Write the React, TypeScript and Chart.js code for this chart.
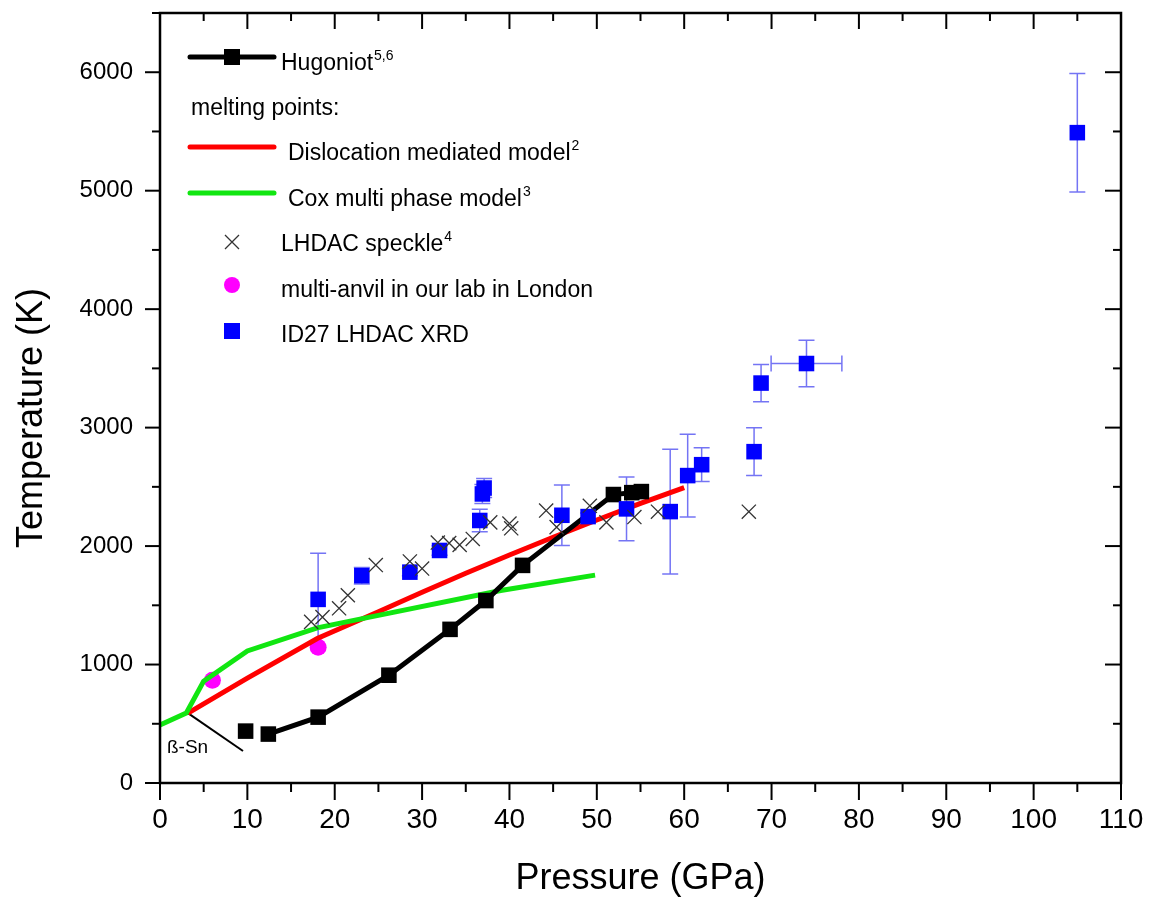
import React, { useEffect, useRef } from 'react';
import { Chart, registerables } from 'chart.js';

Chart.register(...registerables);

const FONT = "'Liberation Sans', Arial, Helvetica, sans-serif";

// Hugoniot (black squares + line)
const hugP = [9.8, 12.4, 18.1, 26.2, 33.2, 37.3, 41.5, 51.9, 54.0, 55.1];
const hugT = [438, 413, 556, 910, 1297, 1540, 1837, 2435, 2451, 2460];

// Dislocation mediated model (red)
const disP = [3.2, 10, 18, 25, 30, 35, 40, 45, 50, 55, 60];
const disT = [590, 885, 1220, 1445, 1610, 1770, 1925, 2075, 2220, 2360, 2494];

// Cox multi phase model (green)
const coxP = [0, 3.0, 5.0, 10, 18, 24, 39, 49.8];
const coxT = [490, 590, 860, 1115, 1310, 1400, 1625, 1755];

// thin black phase lines
const meltLowP = [0, 3.2, 8];
const meltLowT = [490, 590, 790];
const betaP = [3.2, 9.5];
const betaT = [590, 270];

// LHDAC speckle (crosses)
const speckP = [17.3, 18.6, 20.5, 21.5, 24.7, 28.6, 30.0, 31.8, 33.1, 34.3, 35.8, 37.8, 40.0, 40.2, 44.2, 45.4, 49.2, 51.1, 54.3, 57.0, 67.4];
const speckT = [1360, 1400, 1475, 1585, 1840, 1870, 1810, 2030, 2025, 2010, 2060, 2200, 2190, 2150, 2300, 2160, 2340, 2200, 2245, 2290, 2290];

// multi-anvil (magenta)
const anvilP = [6.0, 18.1];
const anvilT = [868, 1146];

// ID27 LHDAC XRD (blue squares with error bars)
const id27P = [18.1, 23.1, 28.6, 32.0, 36.6, 36.9, 37.1, 46.0, 49.0, 53.4, 58.4, 60.4, 62.0, 68.0, 68.8, 74.0, 105.0];
const id27T = [1550, 1750, 1780, 1963, 2216, 2440, 2490, 2260, 2249, 2314, 2291, 2595, 2687, 2797, 3376, 3541, 5490];
const id27Terr = [390, 70, 30, 40, 95, 80, 80, 255, 30, 270, 527, 350, 142, 202, 157, 197, 500];
const id27Perr = [0, 0, 0, 0, 0, 0, 0, 0, 0, 0, 0, 0, 0, 0, 0, 4.05, 0];

const xTickVals = [0, 10, 20, 30, 40, 50, 60, 70, 80, 90, 100, 110];
const yTickVals = [0, 1000, 2000, 3000, 4000, 5000, 6000];

const toXY = (ps: number[], ts: number[]) => ps.map((p, i) => ({ x: p, y: ts[i] }));

const zeroPad = (s: any) => {
  s.paddingTop = 0;
  s.paddingBottom = 0;
  s.paddingLeft = 0;
  s.paddingRight = 0;
};

const errorBarPlugin = {
  id: 'errbars',
  beforeDatasetsDraw(chart: any) {
    const { ctx, scales } = chart;
    const x = scales.x, y = scales.y;
    ctx.save();
    ctx.strokeStyle = 'rgba(70,70,240,0.75)';
    ctx.lineWidth = 1.5;
    const cap = 8;
    id27P.forEach((p, i) => {
      const px = x.getPixelForValue(p);
      const py = y.getPixelForValue(id27T[i]);
      const te = id27Terr[i];
      if (te) {
        const y1 = y.getPixelForValue(id27T[i] + te);
        const y2 = y.getPixelForValue(id27T[i] - te);
        ctx.beginPath();
        ctx.moveTo(px, y1); ctx.lineTo(px, y2);
        ctx.moveTo(px - cap, y1); ctx.lineTo(px + cap, y1);
        ctx.moveTo(px - cap, y2); ctx.lineTo(px + cap, y2);
        ctx.stroke();
      }
      const pe = id27Perr[i];
      if (pe) {
        const x1 = x.getPixelForValue(p - pe);
        const x2 = x.getPixelForValue(p + pe);
        ctx.beginPath();
        ctx.moveTo(x1, py); ctx.lineTo(x2, py);
        ctx.moveTo(x1, py - cap); ctx.lineTo(x1, py + cap);
        ctx.moveTo(x2, py - cap); ctx.lineTo(x2, py + cap);
        ctx.stroke();
      }
    });
    ctx.restore();
  },
};

const framePlugin = {
  id: 'frame',
  afterDatasetsDraw(chart: any) {
    const { ctx, chartArea, scales } = chart;
    const { left, right, top, bottom } = chartArea;
    const x = scales.x, y = scales.y;
    ctx.save();
    ctx.strokeStyle = '#000';
    ctx.lineWidth = 2.5;
    ctx.strokeRect(left, top, right - left, bottom - top);
    ctx.lineWidth = 2;
    const seg = (a: number, b: number, c: number, d: number) => {
      ctx.beginPath(); ctx.moveTo(a, b); ctx.lineTo(c, d); ctx.stroke();
    };
    for (let v = 0; v <= 110; v += 5) {
      const px = x.getPixelForValue(v);
      const major = v % 10 === 0;
      seg(px, bottom, px, bottom + (major ? 17 : 9));
      seg(px, top, px, top + (major ? 16 : 8));
    }
    for (let v = 0; v <= 6500; v += 500) {
      const py = y.getPixelForValue(v);
      const major = v % 1000 === 0;
      seg(left, py, left - (major ? 15 : 8), py);
      seg(right, py, right - (major ? 16 : 8), py);
    }
    // beta-Sn label
    ctx.fillStyle = '#000';
    ctx.font = `19px ${FONT}`;
    ctx.textBaseline = 'alphabetic';
    ctx.textAlign = 'left';
    ctx.fillText('ß-Sn', x.getPixelForValue(0.8), y.getPixelForValue(250));
    ctx.restore();
  },
};

const legendPlugin = {
  id: 'customLegend',
  afterDraw(chart: any) {
    const { ctx } = chart;
    ctx.save();
    ctx.textAlign = 'left';
    ctx.textBaseline = 'alphabetic';
    ctx.fillStyle = '#000';
    const text = (t: string, sup: string, x: number, yb: number) => {
      ctx.font = `23px ${FONT}`;
      ctx.fillStyle = '#000';
      ctx.fillText(t, x, yb);
      if (sup) {
        const w = ctx.measureText(t).width;
        ctx.font = `14px ${FONT}`;
        ctx.fillText(sup, x + w + 1, yb - 10);
      }
    };
    // Hugoniot
    ctx.strokeStyle = '#000';
    ctx.lineWidth = 5;
    ctx.lineCap = 'round';
    ctx.beginPath(); ctx.moveTo(190, 57); ctx.lineTo(274, 57); ctx.stroke();
    ctx.fillStyle = '#000';
    ctx.fillRect(232 - 8, 57 - 8, 16, 16);
    text('Hugoniot', '5,6', 281, 70);
    // melting points:
    text('melting points:', '', 191, 115);
    // red
    ctx.strokeStyle = '#ff0000';
    ctx.lineWidth = 5;
    ctx.beginPath(); ctx.moveTo(190, 147); ctx.lineTo(274, 147); ctx.stroke();
    text('Dislocation mediated model', '2', 288, 160);
    // green
    ctx.strokeStyle = '#11e611';
    ctx.beginPath(); ctx.moveTo(190, 193); ctx.lineTo(274, 193); ctx.stroke();
    text('Cox multi phase model', '3', 288, 206);
    // cross
    ctx.strokeStyle = '#333';
    ctx.lineWidth = 1.3;
    ctx.lineCap = 'butt';
    ctx.beginPath();
    ctx.moveTo(225, 235); ctx.lineTo(239, 249);
    ctx.moveTo(239, 235); ctx.lineTo(225, 249);
    ctx.stroke();
    text('LHDAC speckle', '4', 281, 251);
    // magenta
    ctx.fillStyle = '#ff00ff';
    ctx.beginPath(); ctx.arc(232, 285, 8, 0, Math.PI * 2); ctx.fill();
    text('multi-anvil in our lab in London', '', 281, 297);
    // blue
    ctx.fillStyle = '#0000ff';
    ctx.fillRect(232 - 8, 331 - 8, 16, 16);
    text('ID27 LHDAC XRD', '', 281, 342);
    ctx.restore();
  },
};

export default function App() {
  const ref = useRef<HTMLCanvasElement | null>(null);
  useEffect(() => {
    if (!ref.current) return;
    const chart = new Chart(ref.current, {
      type: 'scatter',
      data: {
        datasets: [
          {
            label: 'LHDAC speckle',
            data: toXY(speckP, speckT),
            pointStyle: 'crossRot',
            pointRadius: 10,
            borderColor: '#333',
            backgroundColor: '#333',
            pointBorderWidth: 1.3,
            showLine: false,
            order: 1,
          },
          {
            label: 'ID27 LHDAC XRD',
            data: toXY(id27P, id27T),
            pointStyle: 'rect',
            pointRadius: 11,
            backgroundColor: '#0000ff',
            borderColor: '#0000ff',
            pointBorderWidth: 0,
            showLine: false,
            order: 2,
          },
          {
            label: 'Hugoniot',
            data: toXY(hugP, hugT),
            pointStyle: 'rect',
            pointRadius: 11,
            backgroundColor: '#000',
            borderColor: '#000',
            pointBorderWidth: 0,
            borderWidth: 5,
            showLine: true,
            segment: {
              borderColor: (c: any) => (c.p0DataIndex === 0 ? 'rgba(0,0,0,0)' : '#000'),
            },
            order: 3,
          },
          {
            label: 'Cox multi phase model',
            data: toXY(coxP, coxT),
            showLine: true,
            borderColor: '#11e611',
            borderWidth: 5,
            pointRadius: 0,
            order: 4,
          },
          {
            label: 'Dislocation mediated model',
            data: toXY(disP, disT),
            showLine: true,
            borderColor: '#ff0000',
            borderWidth: 5,
            pointRadius: 0,
            order: 5,
          },
          {
            label: 'melt low',
            data: toXY(meltLowP, meltLowT),
            showLine: true,
            borderColor: '#000',
            borderWidth: 2,
            pointRadius: 0,
            order: 6,
          },
          {
            label: 'beta-Sn boundary',
            data: toXY(betaP, betaT),
            showLine: true,
            borderColor: '#000',
            borderWidth: 2,
            pointRadius: 0,
            order: 6,
          },
          {
            label: 'multi-anvil',
            data: toXY(anvilP, anvilT),
            pointStyle: 'circle',
            pointRadius: 8.5,
            backgroundColor: '#ff00ff',
            borderColor: '#ff00ff',
            pointBorderWidth: 0,
            showLine: false,
            order: 7,
          },
        ],
      },
      options: {
        responsive: false,
        animation: false,
        layout: { padding: { top: 13, right: 28, left: 0, bottom: 0 } },
        plugins: { legend: { display: false }, tooltip: { enabled: false } },
        scales: {
          x: {
            type: 'linear',
            min: 0,
            max: 110,
            afterBuildTicks: (s: any) => { s.ticks = xTickVals.map((v) => ({ value: v })); },
            afterFit: (s: any) => { s.height = 114; zeroPad(s); },
            grid: { display: false, drawTicks: false },
            border: { display: false },
            ticks: {
              padding: 20,
              color: '#000',
              font: { family: FONT, size: 28 },
              maxRotation: 0,
              callback: (v: any) => String(v),
            },
            title: {
              display: true,
              text: 'Pressure (GPa)',
              color: '#000',
              font: { family: FONT, size: 36, lineHeight: 1.0 },
              padding: { top: 0, bottom: 0 },
            },
          },
          y: {
            type: 'linear',
            min: 0,
            max: 6500,
            afterBuildTicks: (s: any) => { s.ticks = yTickVals.map((v) => ({ value: v })); },
            afterFit: (s: any) => { s.width = 160; zeroPad(s); },
            grid: { display: false, drawTicks: false },
            border: { display: false },
            ticks: {
              padding: 27,
              color: '#000',
              font: { family: FONT, size: 24 },
              callback: (v: any) => String(v),
            },
            title: {
              display: true,
              text: 'Temperature (K)    ',
              color: '#000',
              font: { family: FONT, size: 36, lineHeight: 1.0 },
              padding: { top: 14, bottom: 0 },
            },
          },
        },
      },
      plugins: [errorBarPlugin, framePlugin, legendPlugin],
    } as any);
    return () => chart.destroy();
  }, []);
  return (
    <div style={{ position: 'absolute', left: 0, top: 0, width: 1149, height: 897, background: '#fff' }}>
      <canvas ref={ref} width={1149} height={897} style={{ display: 'block' }} />
    </div>
  );
}
